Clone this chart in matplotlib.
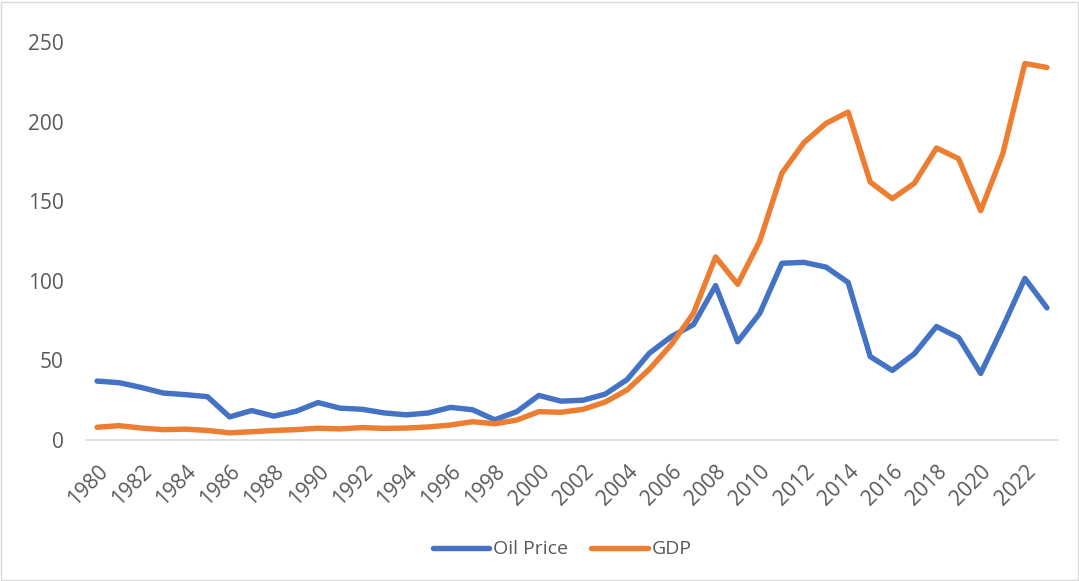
import numpy as np
import matplotlib.pyplot as plt
from matplotlib.patches import Rectangle

# yearly series
years = list(range(1980, 2024))
oil_price = [37.0, 36.0, 33.0, 29.5, 28.5, 27.2, 14.5, 18.5, 15.0, 18.0,
             23.5, 20.0, 19.3, 17.0, 15.8, 17.0, 20.5, 19.0, 12.7, 17.8,
             28.0, 24.4, 25.0, 28.8, 38.0, 54.5, 65.0, 72.5, 97.0, 61.7,
             79.6, 111.0, 111.6, 108.6, 99.0, 52.4, 43.7, 54.2, 71.3, 64.3,
             41.8, 70.9, 101.5, 83.0]
gdp = [8.0, 9.0, 7.5, 6.5, 6.8, 6.0, 4.5, 5.2, 6.0, 6.5,
       7.4, 7.0, 7.8, 7.3, 7.5, 8.2, 9.4, 11.5, 10.2, 12.5,
       17.8, 17.4, 19.3, 23.8, 31.5, 44.4, 60.0, 79.7, 115.0, 97.8,
       125.0, 167.6, 186.8, 198.9, 206.0, 162.0, 151.6, 161.3, 183.4, 176.7,
       144.0, 179.8, 236.5, 234.0]
yticks = [0, 50, 100, 150, 200, 250]
xtick_years = years[::2]

txt = '#595959'
plt.rcParams['font.family'] = ['Open Sans', 'DejaVu Sans']

fig = plt.figure(figsize=(10.79, 5.81), dpi=100)
ax = fig.add_axes([86/1079, 1 - 440/581, (1058 - 86)/1079, (440 - 42)/581])

ax.plot(years, oil_price, color='#4472C4', lw=3.9, solid_capstyle='round',
        solid_joinstyle='round', label='Oil Price')
ax.plot(years, gdp, color='#ED7D31', lw=3.9, solid_capstyle='round',
        solid_joinstyle='round', label='GDP')

ax.set_xlim(1979.5, 2023.5)
ax.set_ylim(0, 250)
ax.set_yticks(yticks)
ax.set_xticks(xtick_years)
ax.set_xticklabels([str(y) for y in xtick_years], rotation=45, ha='right',
                   va='top', rotation_mode='anchor', fontsize=14.5)
ax.tick_params(length=0, labelsize=15, colors=txt)
ax.tick_params(axis='y', pad=16)
ax.tick_params(axis='x', pad=15)
for s in ['top', 'right', 'left']:
    ax.spines[s].set_visible(False)
ax.spines['bottom'].set_color('#D9D9D9')
ax.spines['bottom'].set_linewidth(1.2)

leg = ax.legend(loc='center', bbox_to_anchor=(0.49, -0.275), ncol=2, frameon=False,
                fontsize=14, handlelength=2.9, columnspacing=1.2, handletextpad=0.2)
for t in leg.get_texts():
    t.set_color(txt)

# outer frame
fig.patches.append(Rectangle((0.001, 0.001), 0.998, 0.996, transform=fig.transFigure,
                             fill=False, edgecolor='#D9D9D9', lw=1))

fig.savefig('out.png', dpi=100)
